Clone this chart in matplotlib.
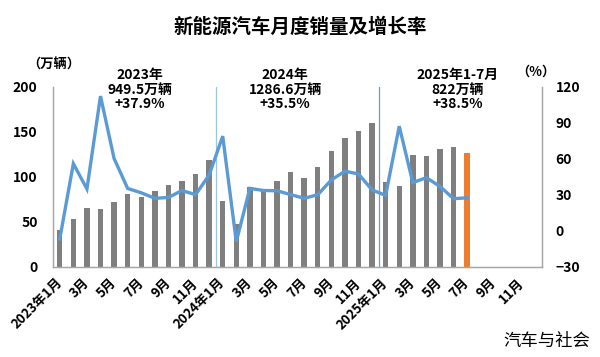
import matplotlib
matplotlib.use("Agg")
import matplotlib.pyplot as plt
import numpy as np

plt.rcParams['font.family'] = ['Noto Sans CJK SC', 'DejaVu Sans']

# monthly sales (万辆), 2023-01 .. 2025-07
sales = [40.8, 52.5, 65.3, 63.6, 71.7, 80.6, 78.0, 84.6, 90.4, 95.6, 102.6, 119.1,
         72.9, 47.7, 88.3, 85.0, 95.5, 104.9, 99.1, 110.3, 128.7, 143.0, 151.2, 159.6,
         94.4, 89.2, 123.7, 122.6, 130.7, 132.9, 126.2]
# year-on-year growth (%)
growth = [-6.9, 55.9, 34.8, 112.2, 60.2, 35.2, 31.6, 27.0, 27.7, 33.5, 30.0, 46.4,
          78.8, -9.2, 35.3, 33.5, 33.3, 30.1, 27.0, 30.0, 42.3, 49.6, 47.3, 34.0,
          29.4, 87.1, 40.1, 44.2, 36.9, 26.7, 27.4]
n_slots = 36
tick_labels = ['2023年1月', '3月', '5月', '7月', '9月', '11月',
               '2024年1月', '3月', '5月', '7月', '9月', '11月',
               '2025年1月', '3月', '5月', '7月', '9月', '11月']
annotations = [('2023年\n949.5万辆\n+37.9%', 5.9),
               ('2024年\n1286.6万辆\n+35.5%', 16.6),
               ('2025年1-7月\n822万辆\n+38.5%', 29.3)]

fig = plt.figure(figsize=(6, 3.57), dpi=100)
ax = fig.add_axes([0.0883, 0.253, 0.8147, 0.504])
ax2 = ax.twinx()

x = np.arange(len(sales))
colors = ['#7f7f7f'] * (len(sales) - 1) + ['#ED7D31']
ax.bar(x, sales, width=0.4, color=colors, zorder=2)
ax2.plot(x, growth, color='#5B9BD5', lw=2.4, zorder=3, solid_joinstyle='miter')

ax.set_xlim(-0.5, n_slots - 0.5)
ax.set_ylim(0, 200)
ax.set_yticks(range(0, 201, 50))
ax2.set_ylim(-30, 120)
ax2.set_yticks(range(-30, 121, 30))

ax.set_xticks(range(0, n_slots, 2))
ax.set_xticklabels(tick_labels, rotation=45, ha='right', va='center',
                   rotation_mode='anchor', fontsize=9.5, fontweight='bold')
for t in ax.get_yticklabels():
    t.set_fontweight('bold'); t.set_fontsize(10)
for t in ax2.get_yticklabels():
    t.set_fontweight('bold'); t.set_fontsize(10)

ax.tick_params(axis='y', length=0, pad=11)
ax2.tick_params(axis='y', length=0, pad=10)
ax.tick_params(axis='x', length=0, pad=10)

for a in (ax, ax2):
    a.spines['top'].set_visible(False)
    for s in ('left', 'right', 'bottom'):
        a.spines[s].set_color('#a6a6a6')
        a.spines[s].set_linewidth(0.9)

ax.axvline(11.5, color='#9DC3E6', lw=0.9, zorder=1)
ax.axvline(23.5, color='#6E9CC8', lw=0.9, zorder=1)

for txt, xp in annotations:
    ax.text(xp, 197, txt, ha='center', va='center', fontsize=10, fontweight='bold',
            linespacing=1.05)

fig.text(0.5, 0.923, '新能源汽车月度销量及增长率', ha='center', va='center',
         fontsize=14, fontweight='bold')
fig.text(0.09, 0.818, '（万辆）', ha='center', va='center', fontsize=9.5, fontweight='bold')
fig.text(0.893, 0.798, '（%）', ha='center', va='center', fontsize=9.5, fontweight='bold')
fig.text(0.983, 0.046, '汽车与社会', ha='right', va='center', fontsize=12.5)

fig.savefig('out.png', dpi=100)
